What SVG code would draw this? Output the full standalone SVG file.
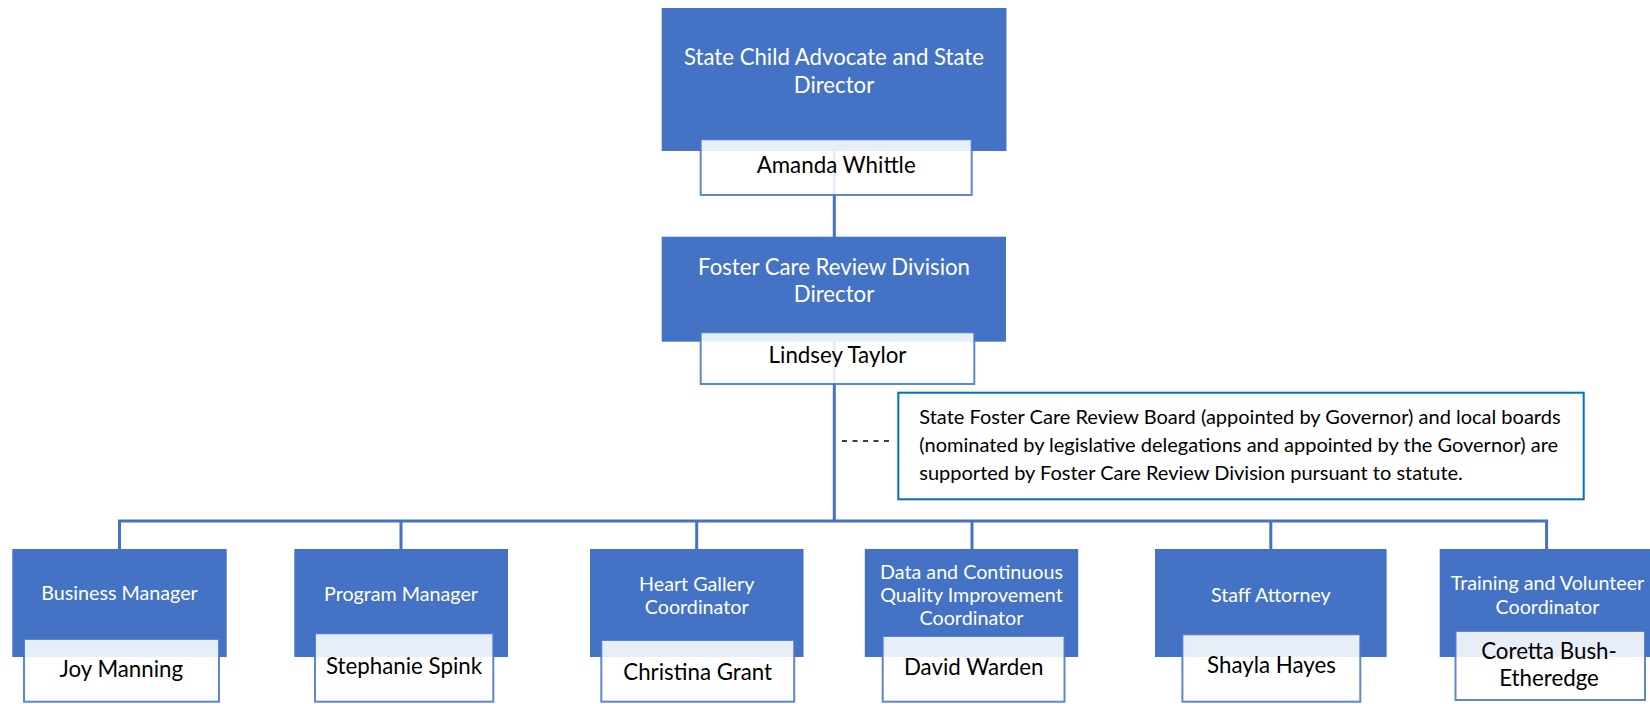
<svg xmlns="http://www.w3.org/2000/svg" width="1650" height="704" viewBox="0 0 1650 704">
<style>
.role{fill:#4472C4;}
.name{fill:#FFFFFF;fill-opacity:0.88;stroke:#4472C4;stroke-width:2;stroke-opacity:0.85;}
.conn{stroke:#4472C4;stroke-width:3;fill:none;}
.t1{font-family:Lato,"Liberation Sans",sans-serif;font-size:22.2px;fill:#FFFFFF;text-anchor:middle;}
.t2{font-family:Lato,"Liberation Sans",sans-serif;font-size:19.7px;fill:#FFFFFF;text-anchor:middle;}
.nm{font-family:Lato,"Liberation Sans",sans-serif;font-size:22.3px;fill:#000000;text-anchor:middle;}
.note{font-family:Lato,"Liberation Sans",sans-serif;font-size:20px;fill:#000000;}
</style>
<rect width="1650" height="704" fill="#FFFFFF"/>
<g id="connectors">
<line class="conn" x1="834.3" y1="140" x2="834.3" y2="237"/>
<line class="conn" x1="834.3" y1="333" x2="834.3" y2="521"/>
<polyline class="conn" points="119.5,549 119.5,521 1546.6,521 1546.6,549"/>
<line class="conn" x1="401" y1="521" x2="401" y2="549"/>
<line class="conn" x1="696.7" y1="521" x2="696.7" y2="549"/>
<line class="conn" x1="972" y1="521" x2="972" y2="549"/>
<line class="conn" x1="1270.8" y1="521" x2="1270.8" y2="549"/>
<line x1="842" y1="441" x2="892" y2="441" stroke="#000000" stroke-width="1.5" stroke-dasharray="5,5.5"/>
</g>
<g id="n-advocate">
<rect class="role" x="661.7" y="8" width="344.8" height="143"/>
<text class="t1" x="834" y="65">State Child Advocate and State</text>
<text class="t1" x="834" y="92.7">Director</text>
<rect class="name" x="700.7" y="139.3" width="271" height="55.7"/>
<text class="nm" x="836.2" y="172.7">Amanda Whittle</text>
</g>
<g id="n-fcrd">
<rect class="role" x="661.7" y="236.7" width="344.3" height="105"/>
<text class="t1" x="834" y="275">Foster Care Review Division</text>
<text class="t1" x="834" y="301.7">Director</text>
<rect class="name" x="700.7" y="332.3" width="273.6" height="51.7"/>
<text class="nm" x="837.5" y="363">Lindsey Taylor</text>
</g>
<g id="n-note">
<rect x="898.3" y="392.7" width="685.4" height="106.6" fill="#FFFFFF" stroke="#0070C0" stroke-width="2"/>
<text class="note" x="919.3" y="424">State Foster Care Review Board (appointed by Governor) and local boards</text>
<text class="note" x="919.3" y="451.7">(nominated by legislative delegations and appointed by the Governor) are</text>
<text class="note" x="919.3" y="480">supported by Foster Care Review Division pursuant to statute.</text>
</g>
<g id="n-business">
<rect class="role" x="12.3" y="549" width="214.4" height="108"/>
<text class="t2" x="119.5" y="600">Business Manager</text>
<rect class="name" x="24" y="639" width="195" height="62.7"/>
<text class="nm" x="121.3" y="676.7">Joy Manning</text>
</g>
<g id="n-program">
<rect class="role" x="294.3" y="549" width="213.7" height="108"/>
<text class="t2" x="401" y="601">Program Manager</text>
<rect class="name" x="315" y="633.3" width="178.3" height="68.4"/>
<text class="nm" x="404" y="674">Stephanie Spink</text>
</g>
<g id="n-heart">
<rect class="role" x="590" y="549" width="213.5" height="108"/>
<text class="t2" x="696.7" y="590.7">Heart Gallery</text>
<text class="t2" x="696.7" y="614">Coordinator</text>
<rect class="name" x="601.3" y="640" width="192.9" height="61.7"/>
<text class="nm" x="697.7" y="680">Christina Grant</text>
</g>
<g id="n-data">
<rect class="role" x="864.8" y="549" width="213.4" height="108"/>
<text class="t2" x="971.5" y="579">Data and Continuous</text>
<text class="t2" x="971.5" y="601.7">Quality Improvement</text>
<text class="t2" x="971.5" y="625">Coordinator</text>
<rect class="name" x="882.7" y="636" width="181.8" height="65.7"/>
<text class="nm" x="973.7" y="675">David Warden</text>
</g>
<g id="n-attorney">
<rect class="role" x="1155" y="549" width="231.6" height="108"/>
<text class="t2" x="1270.8" y="601.7">Staff Attorney</text>
<rect class="name" x="1182.4" y="634.3" width="177.9" height="67.4"/>
<text class="nm" x="1271.5" y="673.3">Shayla Hayes</text>
</g>
<g id="n-training">
<rect class="role" x="1439.7" y="549" width="214" height="108"/>
<text class="t2" x="1547.5" y="590">Training and Volunteer</text>
<text class="t2" x="1547.5" y="613.5">Coordinator</text>
<rect class="name" x="1455.5" y="631" width="189.5" height="69"/>
<text class="nm" x="1549" y="659">Coretta Bush-</text>
<text class="nm" x="1549" y="686">Etheredge</text>
</g>
</svg>
